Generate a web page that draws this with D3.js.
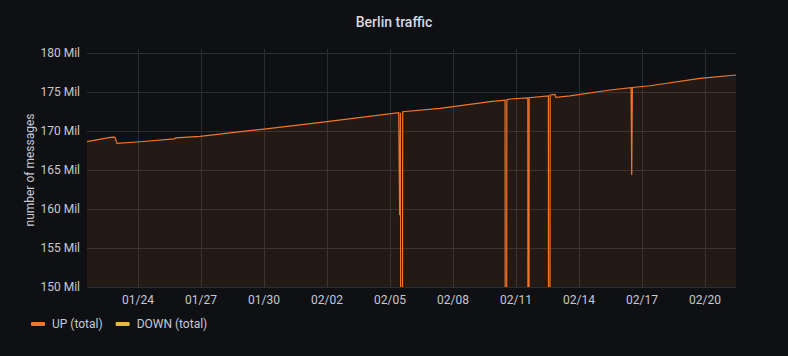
<!DOCTYPE html>
<html><head><meta charset="utf-8">
<script src="https://cdn.jsdelivr.net/npm/d3@7/dist/d3.min.js"></script>
<style>
html,body{margin:0;padding:0;background:#0f1013;}
svg{display:block;font-family:Roboto,"Noto Sans",sans-serif;}
</style></head><body>
<svg id="chart" width="788" height="356"></svg>
<script>
// ---- data (values in millions of messages; spikes to 0 are clipped below 150 Mil) ----
const upTimes = [
 "2021-01-21T13:43","2021-01-22T14:51","2021-01-22T19:26","2021-01-22T21:43","2021-01-23T00:00",
 "2021-01-24T02:17","2021-01-25T17:09","2021-01-25T19:26","2021-01-26T22:51","2021-01-30T00:00",
 "2021-02-02T00:00","2021-02-05T10:00","2021-02-05T11:00","2021-02-05T12:00","2021-02-05T13:00",
 "2021-02-05T14:30","2021-02-07T09:09","2021-02-09T18:17","2021-02-10T11:30","2021-02-10T12:30",
 "2021-02-10T13:30","2021-02-10T17:09","2021-02-11T13:30","2021-02-11T14:15","2021-02-11T15:00",
 "2021-02-12T13:00","2021-02-12T14:00","2021-02-12T15:00","2021-02-12T20:30","2021-02-12T21:30",
 "2021-02-13T13:43","2021-02-15T11:26","2021-02-16T11:30","2021-02-16T12:15","2021-02-16T13:00",
 "2021-02-17T09:09","2021-02-19T18:17","2021-02-21T11:26"
];
const upValues = [
 168.63,169.14,169.22,169.18,168.42,
 168.62,169.0,169.12,169.3,170.25,
 171.2,172.35,159.2,172.35,0,
 172.47,172.9,173.76,173.95,0,
 174.0,174.1,174.25,0,174.27,
 174.5,0,174.62,174.68,174.3,
 174.5,175.26,175.55,164.36,175.58,
 175.8,176.75,177.18
];
const downTimes = [];
const downValues = [];
const yTicks = [150,155,160,165,170,175,180];
const xTickDates = ["2021-01-24","2021-01-27","2021-01-30","2021-02-02","2021-02-05","2021-02-08","2021-02-11","2021-02-14","2021-02-17","2021-02-20"];
const seriesNames = ["UP (total)","DOWN (total)"];
const seriesColors = ["#f2762a","#e8b93c"];
const title = "Berlin traffic";
const yLabel = "number of messages";

// ---- layout ----
const svg = d3.select("#chart");
const W = 788, H = 356;
const m = {left:87, right:52, top:53, bottom:69};
const pw = W - m.left - m.right, ph = H - m.top - m.bottom;
const parse = d3.timeParse("%Y-%m-%dT%H:%M");
const parseDay = d3.timeParse("%Y-%m-%d");
const up = upTimes.map((t,i)=>({t:parse(t), v:upValues[i]}));

const x = d3.scaleTime()
  .domain([parse("2021-01-21T13:43"), parse("2021-02-21T11:26")])
  .range([m.left, m.left+pw]);
const y = d3.scaleLinear().domain([150,180]).range([m.top+ph, m.top]);

svg.append("rect").attr("width",W).attr("height",H).attr("fill","#0f1013");

svg.append("text").attr("x",W/2).attr("y",27).attr("text-anchor","middle")
  .attr("fill","#d8d9e0").attr("font-size",14).attr("font-weight",500).text(title);

// grid
const grid = svg.append("g");
grid.selectAll("line.h").data(yTicks).join("line")
  .attr("x1",m.left).attr("x2",m.left+pw)
  .attr("y1",d=>y(d)+0.5).attr("y2",d=>y(d)+0.5)
  .attr("stroke","#2c2d31").attr("stroke-width",1);
grid.selectAll("line.v").data(xTickDates).join("line")
  .attr("x1",d=>Math.round(x(parseDay(d)))+0.5).attr("x2",d=>Math.round(x(parseDay(d)))+0.5)
  .attr("y1",m.top-4).attr("y2",m.top+ph)
  .attr("stroke","#2c2d31").attr("stroke-width",1);

// clip
svg.append("clipPath").attr("id","clip").append("rect")
  .attr("x",m.left).attr("y",m.top-1).attr("width",pw).attr("height",ph+1);

const plot = svg.append("g").attr("clip-path","url(#clip)");
const area = d3.area().x(d=>x(d.t)).y0(m.top+ph).y1(d=>y(d.v));
const line = d3.line().x(d=>x(d.t)).y(d=>y(d.v));
plot.append("path").datum(up).attr("d",area).attr("fill","#f2762a").attr("fill-opacity",0.09);
plot.append("path").datum(up).attr("d",line).attr("fill","none")
  .attr("stroke",seriesColors[0]).attr("stroke-width",1.2);

// axes labels
svg.append("g").selectAll("text").data(yTicks).join("text")
  .attr("x",80).attr("y",d=>y(d)+4).attr("text-anchor","end")
  .attr("fill","#c7c8d2").attr("font-size",12).text(d=>d+" Mil");
const fmt = d3.timeFormat("%m/%d");
svg.append("g").selectAll("text").data(xTickDates).join("text")
  .attr("x",d=>x(parseDay(d))).attr("y",304).attr("text-anchor","middle")
  .attr("fill","#c7c8d2").attr("font-size",12).text(d=>fmt(parseDay(d)));

svg.append("text").attr("transform",`translate(34,${m.top+ph/2}) rotate(-90)`)
  .attr("text-anchor","middle").attr("fill","#c7c8d2").attr("font-size",12).text(yLabel);

// legend
const lg = svg.append("g");
let lx = 31;
seriesNames.forEach((n,i)=>{
  lg.append("rect").attr("x",lx).attr("y",322).attr("width",14).attr("height",4)
    .attr("rx",1).attr("fill",seriesColors[i]);
  const t = lg.append("text").attr("x",lx+21).attr("y",328).attr("fill","#c7c8d2")
    .attr("font-size",12).text(n);
  lx += 21 + t.node().getComputedTextLength() + 13;
});
</script>
</body></html>
